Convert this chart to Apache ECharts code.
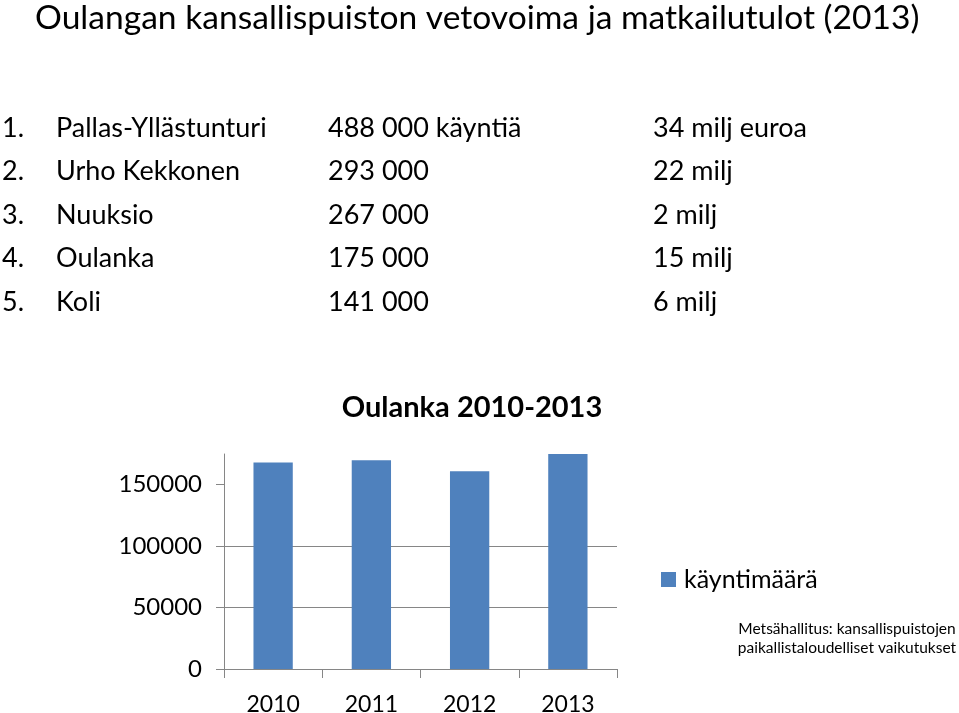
<!DOCTYPE html>
<html>
<head>
<meta charset="utf-8">
<script src="https://cdn.jsdelivr.net/npm/echarts@6/dist/echarts.min.js"></script>
<style>
html,body{margin:0;padding:0;background:#fff;}
#c{width:959px;height:713px;}
</style>
</head>
<body>
<div id="c"></div>
<script>
const pageTitle = 'Oulangan kansallispuiston vetovoima ja matkailutulot (2013)';
const rankNumbers = ['1.', '2.', '3.', '4.', '5.'];
const parkNames = ['Pallas-Yllästunturi', 'Urho Kekkonen', 'Nuuksio', 'Oulanka', 'Koli'];
const parkVisits = ['488 000 käyntiä', '293 000', '267 000', '175 000', '141 000'];
const parkIncome = ['34 milj euroa', '22 milj', '2 milj', '15 milj', '6 milj'];

const chartTitle = 'Oulanka 2010-2013';
const years = ['2010', '2011', '2012', '2013'];
const visits = [168000, 170000, 161000, 175000];
const seriesName = 'käyntimäärä';
const yTicks = [0, 50000, 100000, 150000];
const sourceLines = ['Metsähallitus: kansallispuistojen', 'paikallistaloudelliset vaikutukset'];

const FONT = 'Lato';
const chart = echarts.init(document.getElementById('c'), null, {renderer: 'canvas'});

const graphics = [];
graphics.push({type: 'text', left: 35, top: 1, style: {text: pageTitle, font: '33.6px ' + FONT, fill: '#000'}});
const rowY0 = 128, rowStep = 43.5;
const cols = [[rankNumbers, 2], [parkNames, 56], [parkVisits, 328], [parkIncome, 653]];
cols.forEach(([arr, x]) => {
  arr.forEach((t, i) => {
    graphics.push({type: 'text', x: x, y: rowY0 + i * rowStep,
      style: {text: t, font: '27px ' + FONT, fill: '#000', verticalAlign: 'middle', align: 'left'}});
  });
});
sourceLines.forEach((t, i) => {
  graphics.push({type: 'text', x: 847, y: 629 + i * 19,
    style: {text: t, font: '15.5px ' + FONT, fill: '#000', align: 'center', verticalAlign: 'middle'}});
});

chart.setOption({
  animation: false,
  backgroundColor: '#fff',
  title: {
    text: chartTitle, left: 472, top: 393, textAlign: 'center', padding: 0,
    textStyle: {fontFamily: FONT, fontWeight: 'bold', fontSize: 29, color: '#000'}
  },
  legend: {
    data: [seriesName], left: 661, top: 567, icon: 'rect', itemWidth: 15, itemHeight: 15, itemGap: 8, padding: 0,
    textStyle: {fontFamily: FONT, fontSize: 25, color: '#000', padding: [0, 0, 0, 3]}
  },
  grid: {left: 224, right: 342, top: 454, bottom: 44, containLabel: false, outerBoundsMode: 'none'},
  xAxis: {
    type: 'category', data: years,
    axisLine: {lineStyle: {color: '#868686', width: 1}},
    axisTick: {show: true, length: 9, lineStyle: {color: '#868686'}},
    axisLabel: {fontFamily: FONT, fontSize: 23, color: '#000', margin: 24}
  },
  yAxis: {
    type: 'value', min: 0, max: 175000, interval: 50000,
    axisLine: {show: true, lineStyle: {color: '#868686', width: 1}},
    axisTick: {show: true, length: 8, lineStyle: {color: '#868686'}, customValues: yTicks},
    axisLabel: {fontFamily: FONT, fontSize: 24, color: '#000', margin: 22,
      formatter: function (v) { return yTicks.indexOf(v) >= 0 ? String(v) : ''; }},
    splitLine: {show: true, showMaxLine: false, lineStyle: {color: '#868686', width: 1}}
  },
  series: [{
    name: seriesName, type: 'bar', data: visits, barWidth: '40%',
    itemStyle: {color: '#4F81BD'}
  }],
  graphic: graphics
});
</script>
</body>
</html>
